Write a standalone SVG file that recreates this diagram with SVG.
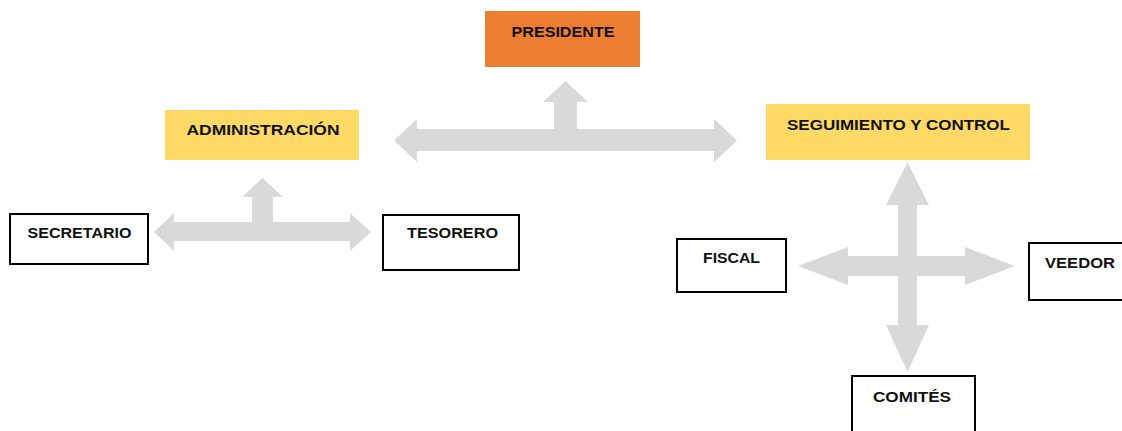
<svg xmlns="http://www.w3.org/2000/svg" width="1122" height="431" viewBox="0 0 1122 431">
<style>
.lbl{font-family:"Liberation Sans",Arial,sans-serif;font-weight:bold;font-size:15px;fill:#111;text-anchor:middle}
.box{fill:#fff;stroke:#000;stroke-width:2}
.arrow{fill:#D9D9D9}
</style>
<rect width="1122" height="431" fill="#fff"/>
<g id="connectors">
<path class="arrow" d="M394,140.5 L417,119 L417,129 L554,129 L554,102 L543,102 L565.5,81 L588,102 L577,102 L577,129 L714,129 L714,119 L737,140.5 L714,162 L714,151 L417,151 L417,162 Z"/>
<path class="arrow" d="M154,232 L174,213 L174,222 L252,222 L252,197 L242,197 L262.5,178 L283,197 L273,197 L273,222 L350,222 L350,213 L371,232 L350,251 L350,241 L174,241 L174,251 Z"/>
<path class="arrow" d="M907.5,162 L929,205 L917,205 L917,256 L965,256 L965,247 L1015,266 L965,285 L965,276 L917,276 L917,325 L929,325 L907.5,372 L886,325 L898,325 L898,276 L848,276 L848,285 L798,266 L848,247 L848,256 L898,256 L898,205 L886,205 Z"/>
</g>
<g id="presidente">
<rect x="485" y="11" width="155" height="56" fill="#ED7D31"/>
<text class="lbl" x="563" y="37" textLength="103" lengthAdjust="spacingAndGlyphs">PRESIDENTE</text>
</g>
<g id="administracion">
<rect x="165" y="110" width="194" height="50" fill="#FFD966"/>
<text class="lbl" x="263" y="135" textLength="153" lengthAdjust="spacingAndGlyphs">ADMINISTRACIÓN</text>
</g>
<g id="seguimiento">
<rect x="766" y="104" width="264" height="56" fill="#FFD966"/>
<text class="lbl" x="898.5" y="130" textLength="223" lengthAdjust="spacingAndGlyphs">SEGUIMIENTO Y CONTROL</text>
</g>
<g id="secretario">
<rect class="box" x="10" y="214" width="138" height="50"/>
<text class="lbl" x="79.5" y="238" textLength="104" lengthAdjust="spacingAndGlyphs">SECRETARIO</text>
</g>
<g id="tesorero">
<rect class="box" x="383" y="215" width="136" height="55"/>
<text class="lbl" x="452.5" y="238" textLength="91" lengthAdjust="spacingAndGlyphs">TESORERO</text>
</g>
<g id="fiscal">
<rect class="box" x="677" y="239" width="109" height="53"/>
<text class="lbl" x="731.5" y="263" textLength="57" lengthAdjust="spacingAndGlyphs">FISCAL</text>
</g>
<g id="veedor">
<rect class="box" x="1029" y="243" width="100" height="57"/>
<text class="lbl" x="1080" y="268" textLength="70" lengthAdjust="spacingAndGlyphs">VEEDOR</text>
</g>
<g id="comites">
<rect class="box" x="852" y="376" width="123" height="70"/>
<text class="lbl" x="912" y="402" textLength="78" lengthAdjust="spacingAndGlyphs">COMITÉS</text>
</g>
</svg>
